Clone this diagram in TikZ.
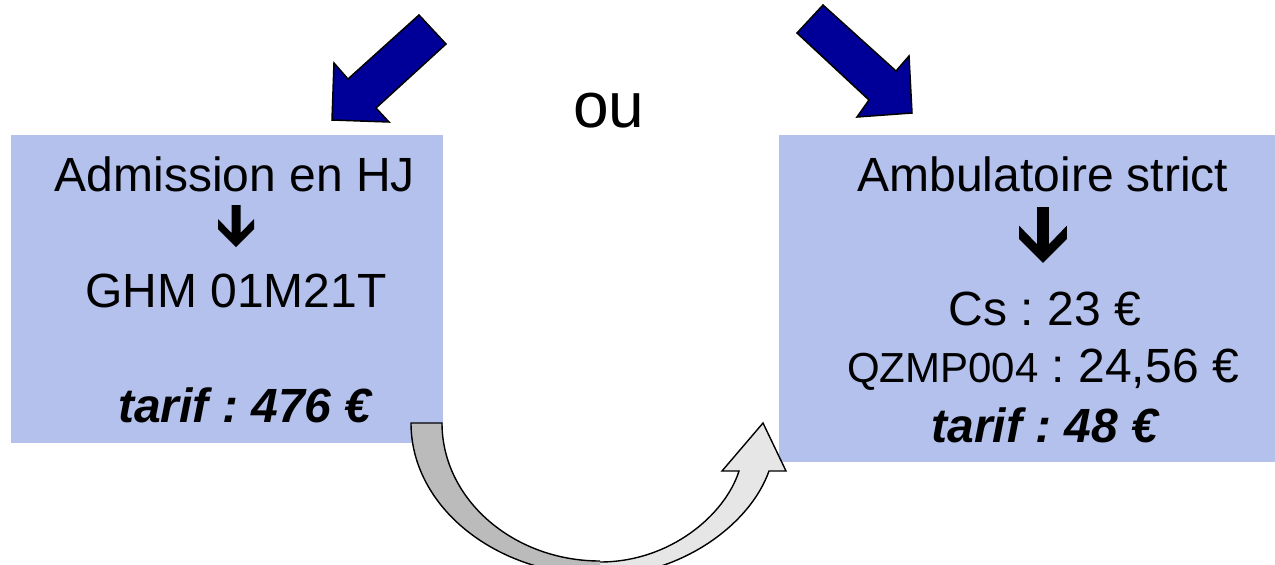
\documentclass[tikz,border=0pt]{standalone}
\usepackage{fontspec}
\setmainfont{Liberation Sans}
\frenchspacing
\definecolor{boxblue}{RGB}{179,193,236}
\definecolor{navyblue}{RGB}{0,0,153}
\definecolor{bandgreyA}{RGB}{187,187,187}
\definecolor{bandgreyB}{RGB}{230,230,230}
\begin{document}
\frenchspacing
\begin{tikzpicture}[x=1pt,y=-1pt,
  panel/.style={draw=none, fill=boxblue, inner sep=0pt, outer sep=0pt, anchor=north west},
  txt/.style={anchor=base, inner sep=0pt, font=\fontsize{48}{56}\selectfont},
  bigarrow/.style={fill=navyblue, draw=black, line width=1.5pt, line join=miter},
  bandline/.style={draw=black, line width=1.4pt, line join=miter},
  downarrow/.pic={\fill[black] (-4.5,0) -- (4.5,0) -- (4.5,28) -- (18,14) -- (18,24) -- (0,42) -- (-18,24) -- (-18,14) -- (-4.5,28) -- cycle;}
]
\useasboundingbox (0,0) rectangle (1275,565);
\clip (0,0) rectangle (1275,565);

% boxes
\node[panel, minimum width=432pt, minimum height=308pt] (leftbox) at (11,135) {};
\node[panel, minimum width=496pt, minimum height=327pt] (rightbox) at (779,135) {};

% top block arrows
\draw[bigarrow] (419,15) -- (446,44) -- (376,108) -- (389,122) -- (332,120) -- (334,63) -- (348,79) -- cycle;
\draw[bigarrow] (823,5) -- (797,33) -- (869,100) -- (857,117) -- (912,113) -- (909,56) -- (896,71) -- cycle;

% "ou"
\node[txt, font=\fontsize{64}{72}\selectfont] (ou) at (609,127) {ou};

% left box texts
\node[txt] (adm) at (235,191) {Admission en HJ};
\pic at (236,205) {downarrow};
\node[txt] (ghm) at (236,307) {GHM 01M21T};
\node[txt, font=\fontsize{48}{56}\selectfont\bfseries\itshape] (tarifL) at (245,422) {tarif : 476 €};

% right box texts
\node[txt] (amb) at (1043,191) {Ambulatoire strict};
\pic[scale=1.33] at (1043,207) {downarrow};
\node[txt] (cs) at (1045,325) {Cs : 23 €};
\node[txt] (qz) at (1043,382) {{\fontsize{42}{50}\selectfont QZMP004} : 24,56 €};
\node[txt, font=\fontsize{48}{56}\selectfont\bfseries\itshape] (tarifR) at (1045,442) {tarif : 48 €};

% curved arrow: right (light) band
\fill[bandgreyB] (600,562) .. controls (670,562) and (725,515) .. (739,471) -- (722,471) -- (763,423) -- (786,471) -- (769,471) .. controls (750,525) and (680,576) .. (600,576) -- cycle;
\draw[bandline] (600,562) .. controls (670,562) and (725,515) .. (739,471) -- (722,471) -- (763,423) -- (786,471) -- (769,471) .. controls (750,525) and (680,576) .. (600,576);
% curved arrow: left (dark) band
\fill[bandgreyA] (600,561) .. controls (513,561) and (442,499) .. (442,423) -- (411,423) .. controls (411,507) and (496,575) .. (600,575) -- cycle;
\draw[bandline] (600,561) .. controls (513,561) and (442,499) .. (442,423) -- (411,423) .. controls (411,507) and (496,575) .. (600,575);
\end{tikzpicture}
\end{document}
